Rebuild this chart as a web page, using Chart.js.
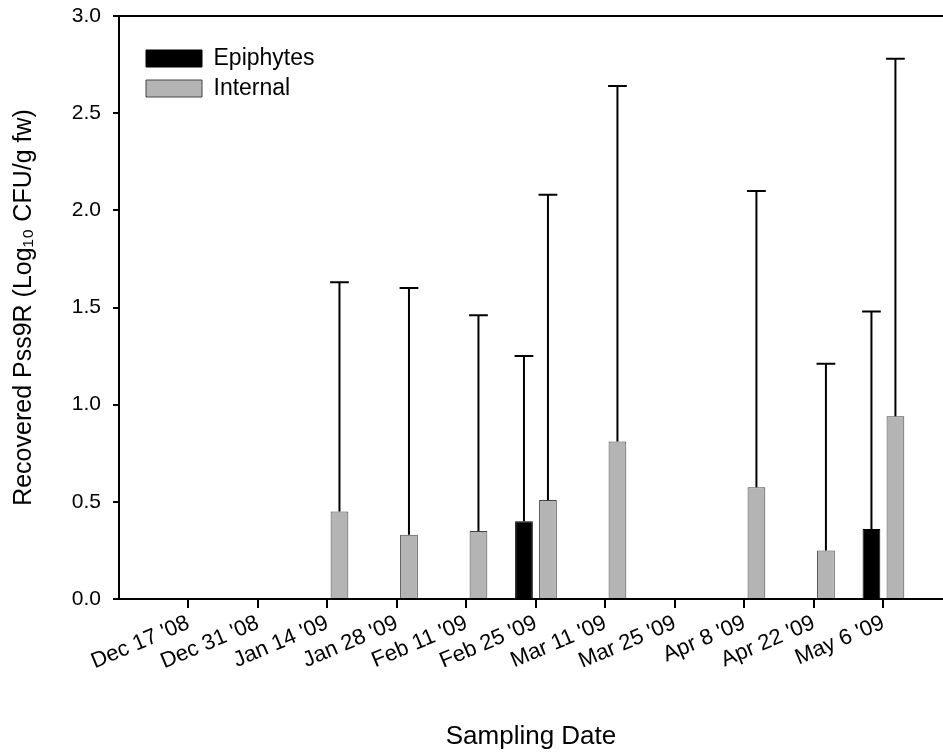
<!DOCTYPE html>
<html>
<head>
<meta charset="utf-8">
<title>Pss9R</title>
<script src="https://cdn.jsdelivr.net/npm/chart.js@4.4.1/dist/chart.umd.min.js"></script>
<style>
	html, body { margin: 0; padding: 0; background: #fff; }
	#wrap { width: 943px; height: 752px; }
</style>
</head>
<body>
<div id="wrap"><canvas id="chart-pss" width="943" height="752"></canvas></div>
<script>
// tanggal sampling (hari sejak Dec 17 '08)
const tanggal = ["Dec 17 '08", "Dec 31 '08", "Jan 14 '09", "Jan 28 '09", "Feb 11 '09", "Feb 25 '09", "Mar 11 '09", "Mar 25 '09", "Apr 8 '09", "Apr 22 '09", "May 6 '09"];
const hari = [0, 14, 28, 42, 56, 70, 84, 98, 112, 126, 140];

const epifit = [null, null, null, null, null, 0.40, null, null, null, null, 0.36];
const epifitAtas = [null, null, null, null, null, 1.25, null, null, null, null, 1.48];

const internal = [null, null, 0.45, 0.33, 0.35, 0.51, 0.81, null, 0.575, 0.25, 0.94];
const internalAtas = [null, null, 1.63, 1.60, 1.46, 2.08, 2.64, null, 2.10, 1.21, 2.78];

const yTicks = [0, 0.5, 1.0, 1.5, 2.0, 2.5, 3.0];

const FONT = "'Liberation Sans', Arial, sans-serif";

function toPoints(arr) {
	return hari.map(function (h, i) { return { x: h, y: arr[i] }; });
}

// garis error (atas saja) + tutup
const errorBar = {
	id: 'errorBar',
	afterDatasetsDraw(chart) {
		const ctx = chart.ctx;
		const ys = chart.scales.y;
		ctx.save();
		ctx.strokeStyle = '#000';
		ctx.lineWidth = 2;
		chart.data.datasets.forEach(function (ds, i) {
			const meta = chart.getDatasetMeta(i);
			meta.data.forEach(function (bar, j) {
				const atas = ds.errAtas[j];
				if (atas == null || ds.data[j].y == null) return;
				const yTop = ys.getPixelForValue(atas);
				const half = bar.width / 2 + 0.5;
				ctx.beginPath();
				ctx.moveTo(bar.x, bar.y);
				ctx.lineTo(bar.x, yTop);
				ctx.moveTo(bar.x - half, yTop);
				ctx.lineTo(bar.x + half, yTop);
				ctx.stroke();
			});
		});
		ctx.restore();
	}
};

// garis bingkai atas
const frameTop = {
	id: 'frameTop',
	afterDraw(chart) {
		const a = chart.chartArea;
		const ctx = chart.ctx;
		ctx.save();
		ctx.strokeStyle = '#000';
		ctx.lineWidth = 2;
		ctx.beginPath();
		ctx.moveTo(a.left - 1, a.top);
		ctx.lineTo(a.right, a.top);
		ctx.stroke();
		ctx.restore();
	}
};

// legend di dalam area plot, kiri atas
const legendPos = {
	id: 'legendPos',
	afterLayout(chart) {
		const lg = chart.legend;
		const a = chart.chartArea;
		const w = lg.width, h = lg.height;
		lg.left = a.left + 20;
		lg.top = a.top + 24;
		lg.right = lg.left + w;
		lg.bottom = lg.top + h;
	}
};

document.addEventListener('DOMContentLoaded', function () {
	const ctx = document.getElementById('chart-pss').getContext('2d');
	new Chart(ctx, {
		type: 'bar',
		data: {
			datasets: [
				{
					label: 'Epiphytes',
					data: toPoints(epifit),
					errAtas: epifitAtas,
					backgroundColor: '#000000',
					borderColor: '#000000',
					borderWidth: 1
				},
				{
					label: 'Internal',
					data: toPoints(internal),
					errAtas: internalAtas,
					backgroundColor: '#b4b4b4',
					borderColor: '#444444',
					borderWidth: 1
				}
			]
		},
		options: {
			responsive: false,
			animation: false,
			categoryPercentage: 0.69,
			barPercentage: 0.74,
			layout: { padding: { top: 16, right: 0, left: 0, bottom: 0 } },
			scales: {
				x: {
					type: 'linear',
					min: -14,
					max: 152,
					offset: false,
					afterBuildTicks: function (scale) {
						scale.ticks = hari.map(function (h) { return { value: h }; });
					},
					afterFit: function (scale) { scale.height = 153; },
					ticks: {
						autoSkip: false,
						minRotation: 23,
						maxRotation: 23,
						padding: 2,
						color: '#000',
						font: { family: FONT, size: 22 },
						callback: function (v, i) { return tanggal[i]; }
					},
					grid: { display: true, offset: false, drawOnChartArea: false, tickLength: 9, color: '#000', lineWidth: 2 },
					border: { display: true, color: '#000', width: 2 },
					title: {
						display: true,
						text: 'Sampling Date',
						color: '#000',
						font: { family: FONT, size: 26 },
						padding: { top: 0, bottom: 0 }
					}
				},
				y: {
					min: 0,
					max: 3,
					afterBuildTicks: function (scale) {
						scale.ticks = yTicks.map(function (v) { return { value: v }; });
					},
					afterFit: function (scale) {
						scale.width = 119;
						scale.paddingTop = 0;
						scale.paddingBottom = 0;
					},
					ticks: {
						padding: 12,
						color: '#000',
						font: { family: FONT, size: 21 },
						callback: function (v) { return Number(v).toFixed(1); }
					},
					grid: { display: true, drawOnChartArea: false, tickLength: 6, color: '#000', lineWidth: 2 },
					border: { display: true, color: '#000', width: 2 },
					title: {
						display: true,
						text: 'Recovered Pss9R (Log\u2081\u2080 CFU/g fw)',
						color: '#000',
						font: { family: FONT, size: 25 },
						padding: { top: 9, bottom: 0 }
					}
				}
			},
			plugins: {
				legend: {
					display: true,
					position: 'chartArea',
					align: 'start',
					labels: {
						boxWidth: 56,
						boxHeight: 17,
						padding: 7,
						color: '#000',
						font: { family: FONT, size: 23 }
					}
				},
				tooltip: { enabled: false }
			}
		},
		plugins: [errorBar, frameTop, legendPos]
	});
});
</script>
</body>
</html>
